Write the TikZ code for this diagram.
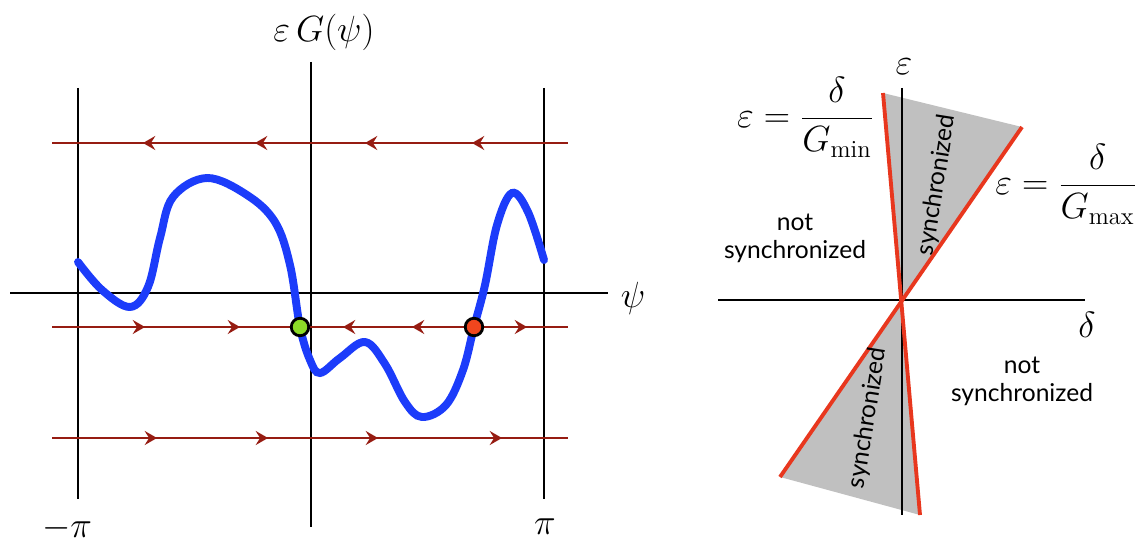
\documentclass[tikz,border=0pt]{standalone}
\usepackage{fontspec}
\newfontfamily\regionfont{Lato}
\usetikzlibrary{arrows.meta}
\definecolor{flowred}{RGB}{150,28,18}
\definecolor{curveblue}{RGB}{28,60,250}
\definecolor{boundred}{RGB}{232,55,30}
\definecolor{syncgray}{RGB}{192,192,192}
\definecolor{stablegreen}{RGB}{140,220,40}
\definecolor{unstablered}{RGB}{240,70,30}
\begin{document}
\begin{tikzpicture}[x=0.02cm,y=-0.02cm,
  axis/.style={line width=1.6pt},
  flow/.style={flowred,line width=1.7pt},
  flowtip/.style={flowred,line width=1.7pt,-{Stealth[length=7pt,width=8pt,inset=2.5pt]}},
  bound/.style={boundred,line width=2.2pt},
  mathlbl/.style={font=\fontsize{20}{24}\selectfont,inner sep=0pt},
  regionlbl/.style={font=\regionfont\fontsize{14}{16}\selectfont,align=center,inner sep=0pt},
  fixpt/.style={circle,draw=black,line width=1.6pt,minimum size=0.35cm,inner sep=0pt}]
  \useasboundingbox (0,0) rectangle (1138,544);
  % phase line picture
  \foreach \x in {78,544}{\draw[axis] (\x,88) -- (\x,499);}
  \draw[axis] (311,62) -- (311,527);
  \draw[axis] (10,293) -- (608,293);
  \foreach \y in {143,327,438}{\draw[flow] (52,\y) -- (568,\y);}
  \foreach \x in {143,255,365,472}{\draw[flowtip] (\x+12,143) -- (\x,143);}
  \foreach \x in {145,240,527}{\draw[flowtip] (\x-12,327) -- (\x,327);}
  \foreach \x in {343,412}{\draw[flowtip] (\x+12,327) -- (\x,327);}
  \foreach \x in {157,268,378,502}{\draw[flowtip] (\x-12,438) -- (\x,438);}
  \draw[curveblue,line width=4.5pt,line cap=round] plot[smooth,tension=0.6] coordinates {
    (78,262) (102,290) (130,307) (148,287) (160,238) (173,197) (207,178)
    (247,195) (275,222) (290,265) (300,327) (310,360) (320,373) (340,358) (365,342)
    (385,364) (405,402) (422,417) (446,405) (463,370) (474,327) (485,285) (497,225)
    (512,193) (528,212) (544,260)};
  \node[fixpt,fill=stablegreen] (stable) at (300,327) {};
  \node[fixpt,fill=unstablered] (unstable) at (474,327) {};
  \node[mathlbl] (glbl) at (324,32) {$\varepsilon\,G(\psi)$};
  \node[mathlbl] (psilbl) at (633,298) {$\psi$};
  \node[mathlbl] (mpilbl) at (67,528) {$-\pi$};
  \node[mathlbl] (pilbl) at (545,527) {$\pi$};
  % synchronization region picture
  \coordinate (O) at (902,300);
  \fill[syncgray] (883,93) -- (1022,127) -- (O) -- cycle;
  \fill[syncgray] (780,477) -- (920,515) -- (O) -- cycle;
  \draw[axis] (718,300) -- (1085,300);
  \draw[axis] (902,88) -- (902,515);
  \draw[bound] (883,93) -- (920,515);
  \draw[bound] (1022,127) -- (780,477);
  \node[mathlbl] (epslbl) at (904,67) {$\varepsilon$};
  \node[mathlbl] (deltalbl) at (1087,325) {$\delta$};
  \node[mathlbl,anchor=base east] (minlbl) at (874,127) {$\displaystyle\varepsilon=\frac{\delta}{G_{\min}}$};
  \node[mathlbl,anchor=base east] (maxlbl) at (1137,194) {$\displaystyle\varepsilon=\frac{\delta}{G_{\max}}$};
  \node[regionlbl] (notsyncup) at (795,238) {not\\synchronized};
  \node[regionlbl] (notsyncdown) at (1022,381) {not\\synchronized};
  \node[regionlbl,rotate=81] (syncup) at (937,185) {synchronized};
  \node[regionlbl,rotate=81] (syncdown) at (868,418) {synchronized};
\end{tikzpicture}
\end{document}
